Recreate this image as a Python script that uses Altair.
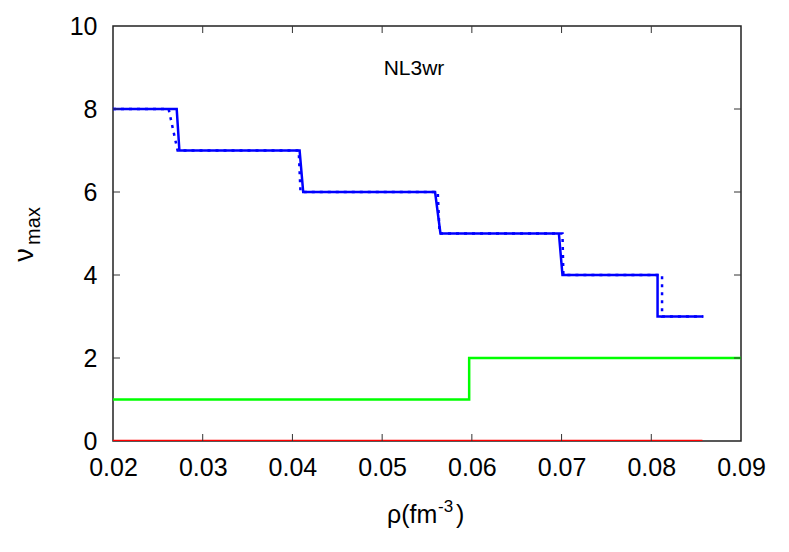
import altair as alt
import pandas as pd

# ---- data ----
solid_x = [0.02, 0.0271, 0.0274, 0.0408, 0.0412, 0.0559, 0.0565, 0.0697, 0.0701, 0.0807, 0.0807, 0.0858]
solid_y = [8, 8, 7, 7, 6, 6, 5, 5, 4, 4, 3, 3]
dotted_x = [0.02, 0.0262, 0.0272, 0.0407, 0.0409, 0.0562, 0.0564, 0.0701, 0.0702, 0.0812, 0.0812, 0.0858]
dotted_y = [8, 8, 7, 7, 6, 6, 5, 5, 4, 4, 3, 3]
green_x = [0.02, 0.0597, 0.0597, 0.09]
green_y = [1, 1, 2, 2]
red_x = [0.02, 0.0857]
red_y = [0, 0]
x_ticks = [0.02, 0.03, 0.04, 0.05, 0.06, 0.07, 0.08, 0.09]
y_ticks = [0, 2, 4, 6, 8, 10]
label_text = "NL3wr"

W, H = 628, 415
FONT = "Liberation Sans"

def series(xs, ys, name):
    return pd.DataFrame({"x": xs, "y": ys, "s": name, "i": range(len(xs))})

xs = alt.Scale(domain=[0.02, 0.09], nice=False)
ys = alt.Scale(domain=[0, 10], nice=False)

x_axis = alt.Axis(values=x_ticks, format=".2f", title=None, domain=False, ticks=False,
                  labelFont=FONT, labelFontSize=25, labelColor="black", labelPadding=14,
                  labelFlush=False, grid=False)
y_axis = alt.Axis(values=y_ticks, format="d", title=None, domain=False, ticks=False,
                  labelFont=FONT, labelFontSize=25, labelColor="black", labelPadding=16,
                  labelFlush=False, grid=False)

def line(df, color, dash=None, width=2.5):
    kw = dict(color=color, strokeWidth=width, clip=True)
    if dash:
        kw["strokeDash"] = dash
    return alt.Chart(df).mark_line(**kw).encode(
        x=alt.X("x:Q", scale=xs, axis=x_axis),
        y=alt.Y("y:Q", scale=ys, axis=y_axis),
        order="i:Q",
    )

red = line(series(red_x, red_y, "red"), "#ff0000")
green = line(series(green_x, green_y, "green"), "#00ff00")
blue = line(series(solid_x, solid_y, "solid"), "#0000ff")
blue_dot = line(series(dotted_x, dotted_y, "dotted"), "#0000ff", dash=[3, 5])

xt = pd.DataFrame({"x": x_ticks[1:-1]})
yt = pd.DataFrame({"y": y_ticks[1:-1]})
tick_style = dict(color="#333333", strokeWidth=1)
xt_bottom = alt.Chart(xt).mark_rule(**tick_style).encode(
    x=alt.X("x:Q", scale=xs), y=alt.value(H), y2=alt.value(H - 7))
xt_top = alt.Chart(xt).mark_rule(**tick_style).encode(
    x=alt.X("x:Q", scale=xs), y=alt.value(0), y2=alt.value(7))
yt_left = alt.Chart(yt).mark_rule(**tick_style).encode(
    y=alt.Y("y:Q", scale=ys), x=alt.value(0), x2=alt.value(7))
yt_right = alt.Chart(yt).mark_rule(**tick_style).encode(
    y=alt.Y("y:Q", scale=ys), x=alt.value(W), x2=alt.value(W - 7))

def txt(t, x, y, size, align="left", angle=0):
    kw = dict(font=FONT, fontSize=size, color="black", align=align, baseline="alphabetic")
    if angle:
        kw["angle"] = angle
    return alt.Chart(pd.DataFrame({"t": [t]})).mark_text(**kw).encode(
        text="t:N", x=alt.value(x), y=alt.value(y))

label = txt(label_text, 414 - 113, 75 - 26, 21, align="center")
xt1 = txt("ρ(fm", 387 - 113, 523 - 26, 25)
xt2 = txt("-3", 438 - 113, 512 - 26, 17)
xt3 = txt(")", 456 - 113, 523 - 26, 25)
yl1 = txt("ν", 33 - 113, 255 - 26, 27, align="center", angle=270)
yl2 = txt("max", 40 - 113, 226 - 26, 20, align="center", angle=270)

chart = alt.layer(
    green, red, blue, blue_dot,
    xt_bottom, xt_top, yt_left, yt_right,
    label, xt1, xt2, xt3, yl1, yl2,
).properties(
    width=W, height=H,
    background="white",
    autosize=alt.AutoSizeParams(type="none"),
    padding={"left": 105, "top": 18, "right": 40, "bottom": 90},
).configure_view(stroke="#222222", strokeWidth=1.5)

chart.save("out.html", embed_options={"renderer": "svg", "actions": False})
